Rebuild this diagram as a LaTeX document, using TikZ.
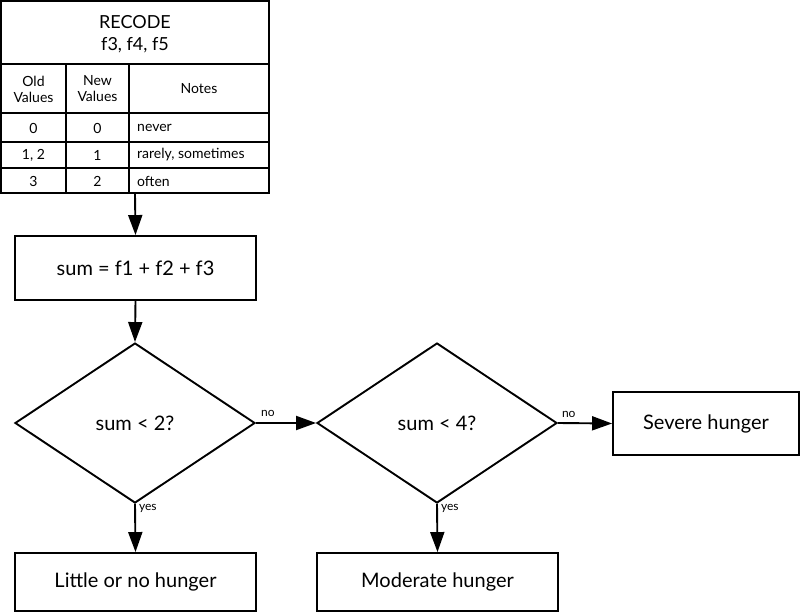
\documentclass[tikz,border=0pt]{standalone}
\usepackage{fontspec}
\setmainfont{Lato}
\usetikzlibrary{arrows.meta,shapes.geometric}
\begin{document}
\begin{tikzpicture}[x=1pt,y=-1pt,
  lw/.style={line width=1.9pt},
  box/.style={draw, lw, inner sep=0pt, font=\fontsize{20}{23}\selectfont},
  dec/.style={draw, diamond, lw, inner sep=0pt, minimum width=240pt, minimum height=160pt, font=\fontsize{20}{23}\selectfont},
  arr/.style={lw, -{Triangle[length=20pt,width=14pt]}},
  lbl/.style={font=\fontsize{12}{14}\selectfont, inner sep=0pt},
  cell/.style={font=\fontsize{14}{16}\selectfont, align=center, inner sep=0pt},
  head/.style={font=\fontsize{18}{22}\selectfont, align=center, inner sep=0pt}]
\useasboundingbox (0,0) rectangle (800,615);
% table
\node[draw, lw, minimum width=268pt, minimum height=192pt, inner sep=0pt] (tbl) at (135,97) {};
\draw[lw] (1,64) -- (269,64);
\draw[lw] (1,113) -- (269,113);
\draw[lw] (1,142) -- (269,142);
\draw[lw] (1,168) -- (269,168);
\draw[lw] (66,64) -- (66,193);
\draw[lw] (129,64) -- (129,193);
\node[head] (t0) at (135,34) {RECODE\\f3, f4, f5};
\node[cell] (h1) at (33.5,89) {Old\\Values};
\node[cell] (h2) at (97.5,89) {New\\Values};
\node[cell] (h3) at (199,89) {Notes};
\node[cell] (r11) at (33.5,128) {0};
\node[cell] (r12) at (97.5,128) {0};
\node[cell, anchor=west] (r13) at (137,128) {never};
\node[cell] (r21) at (33.5,155) {1, 2};
\node[cell] (r22) at (97.5,155) {1};
\node[cell, anchor=west] (r23) at (137,155) {rarely, sometimes};
\node[cell] (r31) at (33.5,181) {3};
\node[cell] (r32) at (97.5,181) {2};
\node[cell, anchor=west] (r33) at (137,181) {often};
% flow
\node[box, minimum width=241pt, minimum height=64pt] (sum) at (135.5,268) {sum = f1 + f2 + f3};
\node[dec] (d1) at (135,423) {sum < 2?};
\node[dec] (d2) at (437,423) {sum < 4?};
\node[box, minimum width=186pt, minimum height=63pt] (sev) at (706,423.5) {Severe hunger};
\node[box, minimum width=241pt, minimum height=58pt] (lit) at (135.5,582) {Little or no hunger};
\node[box, minimum width=241pt, minimum height=58pt] (mod) at (437.5,582) {Moderate hunger};
\draw[arr] (tbl.south) -- (sum.north);
\draw[arr] (sum.south) -- (d1.north);
\draw[arr] (d1.east) -- node[lbl, pos=0.2, above=5pt] {no} (d2.west);
\draw[arr] (d2.east) -- node[lbl, pos=0.2, above=5pt] {no} (sev.west);
\draw[arr] (d1.south) -- node[lbl, pos=0.1, right=3pt] {yes} (lit.north);
\draw[arr] (d2.south) -- node[lbl, pos=0.1, right=3pt] {yes} (mod.north);
\end{tikzpicture}
\end{document}
